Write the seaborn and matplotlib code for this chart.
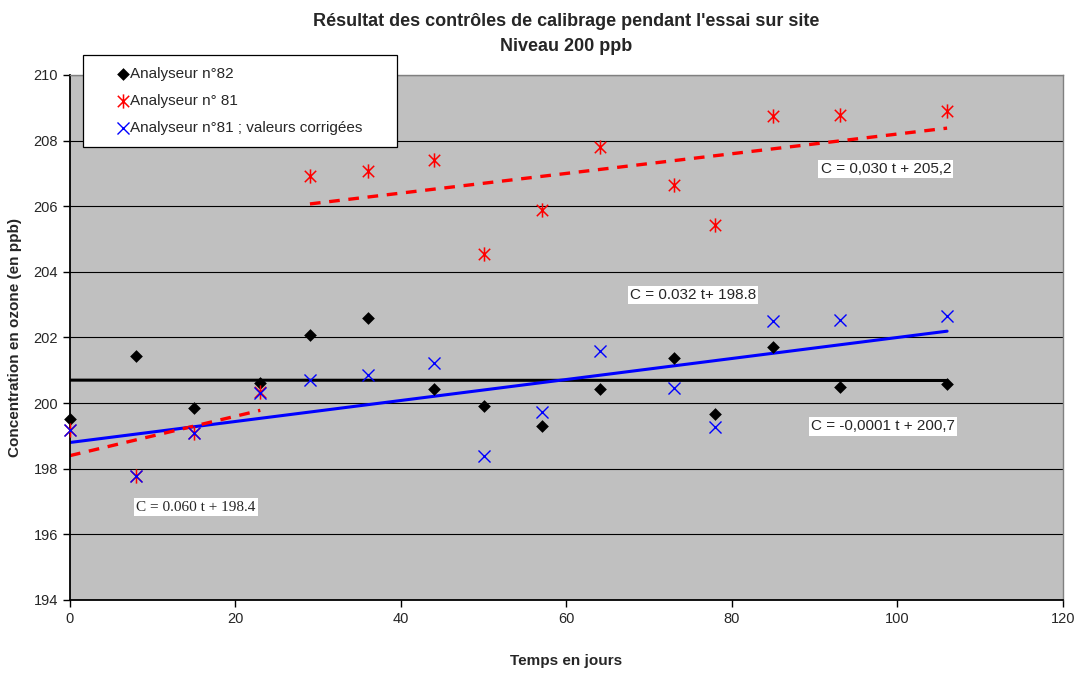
import numpy as np
import matplotlib
matplotlib.use("Agg")
import matplotlib.pyplot as plt
from matplotlib.path import Path
import seaborn as sns

# measurement days and concentrations (ppb)
t_days = [0, 8, 15, 23, 29, 36, 44, 50, 57, 64, 73, 78, 85, 93, 106]
an82 = [199.53, 201.44, 199.86, 200.60, 202.07, 202.59, 200.43, 199.91,
        199.29, 200.43, 201.38, 199.67, 201.71, 200.48, 200.57]
an81 = [199.18, 197.79, 199.10, 200.33, 206.92, 207.08, 207.42, 204.53,
        205.90, 207.80, 206.66, 205.42, 208.75, 208.77, 208.91]
an81_corr = [199.18, 197.79, 199.10, 200.31, 200.71, 200.87, 201.23, 198.40,
             199.74, 201.59, 200.47, 199.27, 202.50, 202.52, 202.66]

labels = ["Analyseur n°82", "Analyseur n° 81", "Analyseur n°81 ; valeurs corrigées"]

# trend lines: (slope, intercept, t start, t end)
fit_82 = (-0.0001, 200.7, 0, 106)
fit_81_a = (0.060, 198.4, 0, 23)
fit_81_b = (0.030, 205.2, 29, 106)
fit_corr = (0.032, 198.8, 0, 106)

eq_texts = ["C = 0,030 t + 205,2", "C = 0.032 t+ 198.8",
            "C = -0,0001 t + 200,7", "C = 0.060 t + 198.4"]
eq_pos = [(98.6, 207.13), (75.3, 203.29), (98.3, 199.29), (15.2, 196.83)]

sns.set_style("ticks")
plt.rcParams["font.family"] = ["Liberation Sans", "DejaVu Sans"]

fig = plt.figure(figsize=(10.8, 6.73), dpi=100)
ax = fig.add_axes([0.0648, 0.1085, 0.9194, 0.7801])
ax.set_facecolor("#C0C0C0")


def trend(fit):
    a, b, t0, t1 = fit
    ts = np.array([t0, t1])
    return ts, a * ts + b


# trend lines first so markers sit on top
x, y = trend(fit_82)
sns.lineplot(x=x, y=y, color="black", linewidth=2.2, ax=ax)
x, y = trend(fit_corr)
sns.lineplot(x=x, y=y, color="blue", linewidth=2.2, ax=ax)
for f in (fit_81_a, fit_81_b):
    x, y = trend(f)
    sns.lineplot(x=x, y=y, color="red", linewidth=2.4, ax=ax,
                 dashes=False, linestyle=(0, (3.2, 2.6)))

star = Path([(0, -1), (0, 1), (-0.8, -0.8), (0.8, 0.8), (-0.8, 0.8), (0.8, -0.8)],
            [Path.MOVETO, Path.LINETO, Path.MOVETO, Path.LINETO, Path.MOVETO, Path.LINETO])

sns.scatterplot(x=t_days, y=an82, marker="D", s=42, color="black", clip_on=False,
                edgecolor="black", linewidth=0, label=labels[0], ax=ax, zorder=5)
sns.scatterplot(x=t_days, y=an81, marker=star, s=105, color="red", clip_on=False,
                edgecolor="red", linewidth=1.1, label=labels[1], ax=ax, zorder=5)
sns.scatterplot(x=t_days, y=an81_corr, marker="x", s=75, color="blue", clip_on=False,
                linewidth=1.0, label=labels[2], ax=ax, zorder=6)

for i, (txt, (tx, ty)) in enumerate(zip(eq_texts, eq_pos)):
    fam = ["Liberation Serif"] if i == 3 else ["Liberation Sans"]
    ax.text(tx, ty, txt, ha="center", va="center", fontsize=11, family=fam,
            bbox=dict(facecolor="white", edgecolor="none", pad=1.5), zorder=7)

ax.set_xlim(0, 120)
ax.set_ylim(194, 210)
ax.set_xticks(range(0, 121, 20))
ax.set_yticks(range(194, 211, 2))
ax.grid(axis="y", color="black", linewidth=0.8)
ax.set_axisbelow(True)
for side in ("left", "bottom"):
    ax.spines[side].set_color("black")
    ax.spines[side].set_linewidth(1.3)
for side in ("top", "right"):
    ax.spines[side].set_visible(True)
    ax.spines[side].set_color("#808080")
    ax.spines[side].set_linewidth(1.0)
ax.tick_params(axis="both", labelsize=10.5, length=5, width=1, color="black")

ax.set_title("Résultat des contrôles de calibrage pendant l'essai sur site\nNiveau 200 ppb",
             fontsize=13, fontweight="bold", pad=17, linespacing=1.65)
ax.set_xlabel("Temps en jours", fontsize=11, fontweight="bold", labelpad=20)
ax.set_ylabel("Concentration en ozone (en ppb)", fontsize=11, fontweight="bold", labelpad=8)

leg = ax.legend(loc="upper left", mode="expand",
                bbox_to_anchor=(83 / 1080, 1 - 145 / 673, 314 / 1080, 90 / 673),
                bbox_transform=fig.transFigure, fontsize=11, frameon=True,
                fancybox=False, borderpad=0.8, handlelength=3.6, handletextpad=-1.3,
                labelspacing=0.85, borderaxespad=0)
leg.get_frame().set_edgecolor("black")
leg.get_frame().set_linewidth(0.9)
leg.get_frame().set_alpha(1)
leg.set_zorder(10)

fig.savefig("out.png", dpi=100)
